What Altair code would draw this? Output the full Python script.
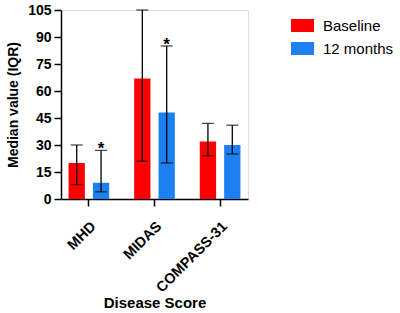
import altair as alt
import pandas as pd

scores = ["MHD", "MIDAS", "COMPASS-31"]
periods = ["Baseline", "12 months"]
baseline_median = [20, 67, 32]
baseline_low = [8, 21, 24]
baseline_high = [30, 105, 42]
m12_median = [9, 48, 30]
m12_low = [4, 20, 25]
m12_high = [27, 85, 41]
m12_star = ["*", "*", ""]
y_ticks = [0, 15, 30, 45, 60, 75, 90, 105]

rows = []
for i, s in enumerate(scores):
    rows.append(dict(score=s, period="Baseline", median=baseline_median[i],
                     low=baseline_low[i], high=baseline_high[i], star=""))
    rows.append(dict(score=s, period="12 months", median=m12_median[i],
                     low=m12_low[i], high=m12_high[i], star=m12_star[i]))
df = pd.DataFrame(rows)
caps = pd.concat([
    df[["score", "period", "low"]].rename(columns={"low": "v"}),
    df[["score", "period", "high"]].rename(columns={"high": "v"}),
])

FONT = "Liberation Sans"
xscale = alt.Scale(domain=scores, paddingInner=0.38, paddingOuter=0.115)
xoff = alt.XOffset("period:N", sort=periods,
                   scale=alt.Scale(domain=periods, paddingInner=0.33, paddingOuter=0))
xaxis = alt.Axis(labelAngle=-45, labelFont=FONT, labelFontSize=14.5,
                 labelFontWeight="bold", labelColor="black",
                 titleFont=FONT, titleFontSize=15, titleFontWeight="bold",
                 titleColor="black", titleBaseline="middle", titleY=103,
                 domainColor="black", domainWidth=1.5, tickColor="black",
                 tickWidth=1.5, tickSize=7, labelPadding=13)
yaxis = alt.Axis(values=y_ticks, grid=False, labelOverlap=False,
                 labelFont=FONT, labelFontSize=14, labelFontWeight="bold",
                 labelColor="black", titleFont=FONT, titleFontSize=14,
                 titleFontWeight="bold", titleColor="black",
                 domainColor="black", domainWidth=1.5, tickColor="black",
                 tickWidth=1.5, tickSize=7, labelPadding=3, titlePadding=7)
yscale = alt.Scale(domain=[0, 105], nice=False)


def X():
    return alt.X("score:N", sort=scores, scale=xscale, title="Disease Score", axis=xaxis)


def Y(field):
    return alt.Y(field, scale=yscale, title="Median value (IQR)", axis=yaxis)


bars = alt.Chart(df).mark_bar().encode(
    x=X(),
    xOffset=xoff,
    y=Y("median:Q"),
    color=alt.Color("period:N", sort=periods,
                    scale=alt.Scale(domain=periods, range=["#ff0000", "#1e80f0"]),
                    legend=alt.Legend(title=None, orient="none", legendX=230, legendY=4,
                                      symbolType="M-1,-0.565L1,-0.565L1,0.565L-1,0.565Z",
                                      symbolSize=529, symbolStrokeWidth=0,
                                      labelFont=FONT, labelFontSize=15,
                                      labelColor="black", labelOffset=9,
                                      rowPadding=3, padding=0)),
)

rules = alt.Chart(df).mark_rule(color="black", strokeWidth=1.3).encode(
    x=X(), xOffset=xoff, y=Y("low:Q"), y2="high:Q",
)

capm = alt.Chart(caps).mark_tick(color="black", thickness=1.3, size=12).encode(
    x=X(), xOffset=xoff, y=Y("v:Q"),
)

stars = alt.Chart(df).mark_text(font=FONT, fontSize=17, fontWeight="bold",
                                color="black", baseline="alphabetic", dy=4).encode(
    x=X(), xOffset=xoff, y=Y("high:Q"), text="star:N",
)

chart = alt.layer(bars, rules, capm, stars).properties(
    width=187, height=189,
    autosize=alt.AutoSizeParams(type="none"),
    padding={"left": 61, "top": 10, "right": 152, "bottom": 114},
).configure_view(stroke=None).configure(background="white")

chart.save("out.html", embed_options={"renderer": "svg", "actions": False})
